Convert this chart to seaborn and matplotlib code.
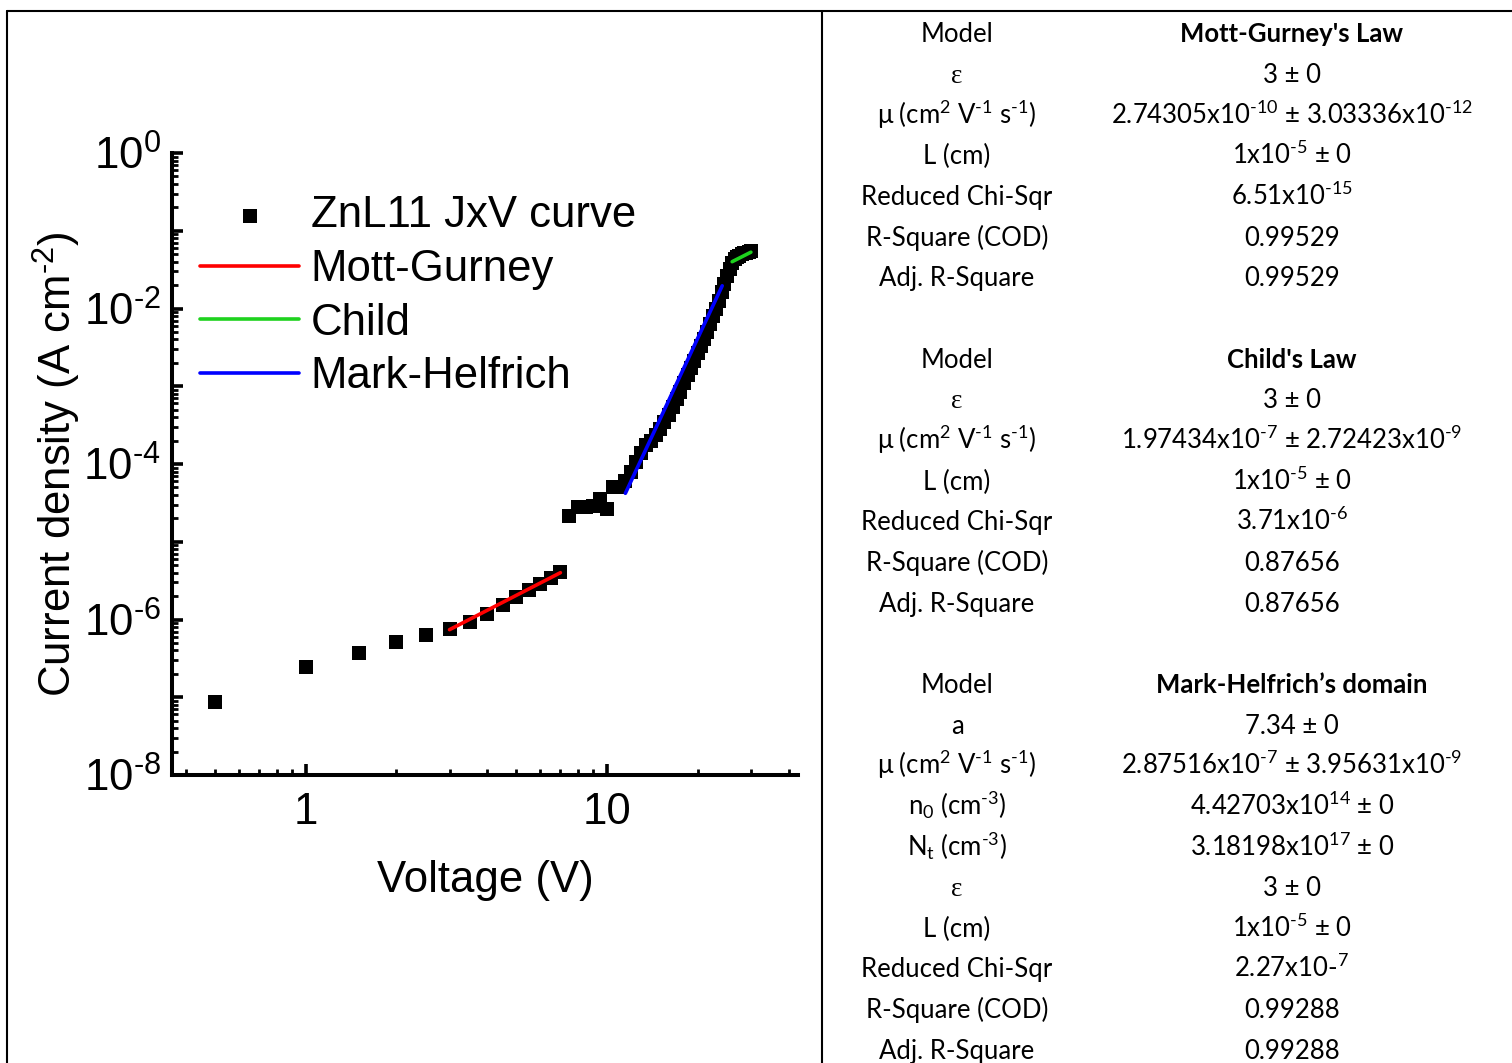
import matplotlib
matplotlib.use("Agg")
import matplotlib.pyplot as plt
import seaborn as sns
import pandas as pd
from matplotlib.lines import Line2D
from matplotlib import ticker

# ---------------- data ----------------
voltage = [0.5, 1.0, 1.5, 2.0, 2.5, 3.0, 3.5, 4.0, 4.5, 5.0, 5.5, 6.0, 6.5, 7.0,
           7.5, 8.0, 8.5, 9.0, 9.5, 10.0, 10.5, 11.0, 11.5, 12.0, 12.5, 13.0,
           13.5, 14.0, 14.5, 15.0, 15.5, 16.0, 16.5, 17.0, 17.5, 18.0, 18.5,
           19.0, 19.5, 20.0, 20.5, 21.0, 21.5, 22.0, 22.5, 23.0, 23.5, 24.0,
           24.5, 25.0, 25.5, 26.0, 26.5, 27.0, 27.5, 28.0, 28.5, 29.0, 29.5, 30.0]
current_density = [8.7e-8, 2.45e-7, 3.7e-7, 5.2e-7, 6.3e-7, 7.6e-7, 9.3e-7, 1.18e-6,
                   1.54e-6, 1.95e-6, 2.4e-6, 2.87e-6, 3.43e-6, 4.1e-6,
                   2.14e-5, 2.8e-5, 2.8e-5, 2.9e-5, 3.5e-5, 2.65e-5, 5.1e-5, 5.0e-5,
                   6.0e-5, 7.9e-5, 1.05e-4, 1.38e-4, 1.74e-4, 2.0e-4, 2.34e-4, 2.82e-4,
                   3.47e-4, 4.27e-4, 5.37e-4, 6.76e-4, 8.51e-4, 1.10e-3, 1.38e-3,
                   1.74e-3, 2.14e-3, 2.69e-3, 3.31e-3, 4.07e-3, 5.01e-3, 6.31e-3,
                   7.94e-3, 1.00e-2, 1.26e-2, 1.62e-2, 2.09e-2, 2.63e-2, 3.24e-2,
                   3.80e-2, 4.27e-2, 4.57e-2, 4.79e-2, 5.01e-2, 5.13e-2, 5.25e-2,
                   5.37e-2, 5.50e-2]

mott_gurney_v = [3.0, 7.0]
mott_gurney_j = [7.4e-7, 4.0e-6]
child_v = [26.0, 30.0]
child_j = [4.0e-2, 5.3e-2]
mark_helfrich_v = [11.5, 24.1]
mark_helfrich_j = [4.2e-5, 1.96e-2]

series_labels = ["ZnL11 JxV curve", "Mott-Gurney", "Child", "Mark-Helfrich"]

HY = "\u2010"  # short hyphen used as the exponent sign
x_ticks = [1, 10]
x_tick_labels = ["1", "10"]
x_minor_ticks = [0.4, 0.5, 0.6, 0.7, 0.8, 0.9, 2, 3, 4, 5, 6, 7, 8, 9, 20, 30, 40]
y_ticks = [1e-8, 1e-7, 1e-6, 1e-5, 1e-4, 1e-3, 1e-2, 1e-1, 1e0]
y_tick_labels = ["$10^{%s8}$" % HY, "", "$10^{%s6}$" % HY, "", "$10^{%s4}$" % HY, "",
                 "$10^{%s2}$" % HY, "", "$10^{0}$"]

table_left = [
    "Model", "ε", "μ (cm$^{2}$ V$^{-1}$ s$^{-1}$)", "L (cm)", "Reduced Chi-Sqr",
    "R-Square (COD)", "Adj. R-Square", "",
    "Model", "ε", "μ (cm$^{2}$ V$^{-1}$ s$^{-1}$)", "L (cm)", "Reduced Chi-Sqr",
    "R-Square (COD)", "Adj. R-Square", "",
    "Model", "a", "μ (cm$^{2}$ V$^{-1}$ s$^{-1}$)", "n$_{0}$ (cm$^{-3}$)",
    "N$_{t}$ (cm$^{-3}$)", "ε", "L (cm)", "Reduced Chi-Sqr", "R-Square (COD)",
    "Adj. R-Square",
]
table_right = [
    "Mott-Gurney's Law", "3 ± 0", "2.74305x10$^{-10}$ ± 3.03336x10$^{-12}$",
    "1x10$^{-5}$ ± 0", "6.51x10$^{-15}$", "0.99529", "0.99529", "",
    "Child's Law", "3 ± 0", "1.97434x10$^{-7}$ ± 2.72423x10$^{-9}$",
    "1x10$^{-5}$ ± 0", "3.71x10$^{-6}$", "0.87656", "0.87656", "",
    "Mark-Helfrich’s domain", "7.34 ± 0", "2.87516x10$^{-7}$ ± 3.95631x10$^{-9}$",
    "4.42703x10$^{14}$ ± 0", "3.18198x10$^{17}$ ± 0", "3 ± 0", "1x10$^{-5}$ ± 0",
    "2.27x10-$^{7}$", "0.99288", "0.99288",
]
header_rows = [0, 8, 16]

# ---------------- style ----------------
sns.set_style("ticks")
plt.rcParams["font.family"] = ["Liberation Sans", "DejaVu Sans"]
plt.rcParams["mathtext.default"] = "regular"
for k in ["text.color", "axes.labelcolor", "xtick.color", "ytick.color", "axes.edgecolor"]:
    plt.rcParams[k] = "black"

W, H = 1512, 1063
fig = plt.figure(figsize=(W / 100, H / 100), dpi=100)
ax = fig.add_axes([172 / W, 1 - 775 / H, (798 - 172) / W, (775 - 153) / H])

df = pd.DataFrame({"V": voltage, "J": current_density})
sns.scatterplot(data=df, x="V", y="J", ax=ax, marker="s", s=100, color="black",
                linewidth=0, label=series_labels[0], zorder=2)
fits = [(mott_gurney_v, mott_gurney_j, "#ff0000", series_labels[1]),
        (child_v, child_j, "#1ed21e", series_labels[2]),
        (mark_helfrich_v, mark_helfrich_j, "#0000ff", series_labels[3])]
for fv, fj, col, lab in fits:
    sns.lineplot(x=fv, y=fj, ax=ax, color=col, lw=2.6, label=lab,
                 estimator=None, sort=False, zorder=3)

ax.set_xscale("log")
ax.set_yscale("log")
ax.set_xlim(0.36, 43)
ax.set_ylim(1e-8, 1e0)

ax.xaxis.set_major_locator(ticker.FixedLocator(x_ticks))
ax.xaxis.set_major_formatter(ticker.FixedFormatter(x_tick_labels))
ax.xaxis.set_minor_locator(ticker.FixedLocator(x_minor_ticks))
ax.xaxis.set_minor_formatter(ticker.NullFormatter())
ax.yaxis.set_major_locator(ticker.FixedLocator(y_ticks))
ax.yaxis.set_major_formatter(ticker.FixedFormatter(y_tick_labels))
ax.yaxis.set_minor_locator(ticker.LogLocator(base=10, subs=range(2, 10), numticks=30))
ax.yaxis.set_minor_formatter(ticker.NullFormatter())

for s in ["top", "right"]:
    ax.spines[s].set_visible(False)
for s in ["left", "bottom"]:
    ax.spines[s].set_linewidth(2.9)
    ax.spines[s].set_color("black")

ax.tick_params(which="major", direction="in", length=8, width=2.6, labelsize=31.5,
               colors="black")
ax.tick_params(which="minor", direction="in", length=4, width=2.0, colors="black")
ax.tick_params(axis="x", which="major", pad=12)
ax.tick_params(axis="y", which="major", pad=8)

ax.set_xlabel("Voltage (V)", fontsize=31.5, labelpad=20)
ax.set_ylabel("Current density (A cm$^{%s2}$)" % HY, fontsize=31.5, labelpad=0)

handles, labels = ax.get_legend_handles_labels()
ax.legend(handles, labels, loc="upper left", bbox_to_anchor=(0.045, 0.932),
          frameon=False, fontsize=31.5, borderpad=0, borderaxespad=0,
          handlelength=2.26, handletextpad=0.27, labelspacing=0.29, markerscale=1.0)

# ---------------- frame lines ----------------
lw_frame = 1.5
fig.add_artist(Line2D([7 / W, 1], [1 - 10.5 / H, 1 - 10.5 / H], transform=fig.transFigure,
                      color="black", lw=lw_frame))
fig.add_artist(Line2D([7 / W, 7 / W], [0, 1 - 10.5 / H], transform=fig.transFigure,
                      color="black", lw=lw_frame))
fig.add_artist(Line2D([822 / W, 822 / W], [0, 1 - 10.5 / H], transform=fig.transFigure,
                      color="black", lw=lw_frame))

# ---------------- table ----------------
tfont = ["Lato", "DejaVu Sans"]
sfont = ["Liberation Serif", "DejaVu Serif"]
for i, (lt, rt) in enumerate(zip(table_left, table_right)):
    yb = 1 - (42.5 + 40.65 * i) / H
    if lt:
        fig.text(957 / W, yb, lt.replace("$^{-", "$^{" + HY), ha="center", va="baseline",
                 fontsize=19.5 if lt == "ε" else 18.5,
                 family=sfont if lt == "ε" else tfont)
    if rt:
        fig.text(1292 / W, yb, rt.replace("$^{-", "$^{" + HY), ha="center", va="baseline",
                 fontsize=18.5, family=tfont,
                 fontweight="bold" if i in header_rows else "normal")

fig.savefig("out.png", dpi=100)
